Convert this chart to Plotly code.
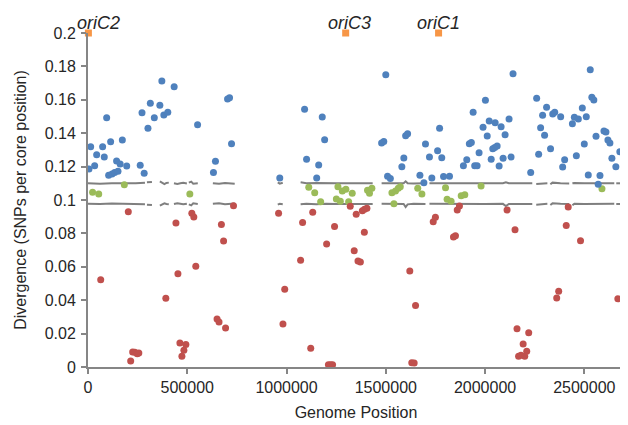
import plotly.graph_objects as go

# ---- data ----
blue_x = [13500, 5000, 33500, 43600, 73700, 82000, 94000, 114000, 173000, 144000, 162000, 195000,
          104000, 121000, 134000, 151000, 272000, 302000, 314000, 334000, 362000, 372000, 382000,
          402000, 434000, 263000, 283000, 552000, 632000, 642000, 703000, 713000, 723000, 966000,
          1091000, 1101000, 1180000, 1192000, 1162000, 1152000, 1500000, 1479000, 1490000, 1509000,
          1523000, 1581000, 1591000, 1600000, 1610000, 1672000, 1692000, 1700000, 1720000, 1732000,
          1761000, 1771000, 1782000, 1791000, 1821000, 1891000, 1908000, 1921000, 1931000, 1940000,
          1948000, 1960000, 1970000, 1990000, 2002000, 2011000, 2021000, 2031000, 2039000, 2049000,
          2061000, 2051000, 2071000, 2081000, 2091000, 2101000, 2121000, 2131000, 2141000, 2230000,
          2260000, 2270000, 2280000, 2290000, 2300000, 2310000, 2330000, 2341000, 2351000, 2381000,
          2391000, 2401000, 2440000, 2450000, 2470000, 2460000, 2490000, 2500000, 2510000, 2520000,
          2530000, 2538000, 2548000, 2559000, 2579000, 2570000, 2599000, 2609000, 2619000, 2629000,
          2639000, 2659000, 2679000]
blue_y = [0.1319, 0.1186, 0.1205, 0.1271, 0.1319, 0.1257, 0.1493, 0.1349, 0.1359, 0.1234, 0.1216, 0.1204,
          0.1148, 0.1156, 0.1164, 0.1172, 0.1523, 0.1429, 0.1579, 0.1493, 0.1567, 0.1713, 0.1509,
          0.1525, 0.1678, 0.1208, 0.1160, 0.1451, 0.1164, 0.1232, 0.1605, 0.1613, 0.1337, 0.1132,
          0.1543, 0.1244, 0.1497, 0.1361, 0.1210, 0.1132, 0.1750, 0.1341, 0.1351, 0.1142,
          0.1128, 0.1199, 0.1251, 0.1385, 0.1397, 0.1148, 0.1104, 0.1335, 0.1257, 0.1132,
          0.1295, 0.1429, 0.1253, 0.1140, 0.1142, 0.1205, 0.1241, 0.1337, 0.1345, 0.1525,
          0.1205, 0.1205, 0.1283, 0.1435, 0.1597, 0.1383, 0.1473, 0.1244, 0.1307, 0.1315,
          0.1323, 0.1463, 0.1204, 0.1439, 0.1250, 0.1391, 0.1485, 0.1257, 0.1756, 0.1164,
          0.1609, 0.1274, 0.1433, 0.1507, 0.1387, 0.1555, 0.1307, 0.1515, 0.1525, 0.1499,
          0.1198, 0.1241, 0.1456, 0.1495, 0.1485, 0.1265, 0.1551, 0.1335, 0.1499, 0.1150,
          0.1780, 0.1615, 0.1599, 0.1381, 0.1146, 0.1094, 0.1413, 0.1407, 0.1359, 0.1341,
          0.1250, 0.1199, 0.1289]

green_x = [23000, 54000, 183000, 513000, 1112000, 1142000, 1172000, 1259000, 1281000, 1299000,
           1271000, 1251000, 1313000, 1331000, 1408000, 1418000, 1430000, 1531000, 1549000,
           1563000, 1573000, 1541000, 1661000, 1682000, 1801000, 1809000, 1829000, 1880000,
           1898000, 1980000, 2589000]
green_y = [0.1046, 0.1036, 0.1092, 0.1036, 0.1076, 0.1044, 0.0990, 0.1080, 0.1054, 0.1064,
           0.0992, 0.1006, 0.0990, 0.1040, 0.1058, 0.1040, 0.1070, 0.1044, 0.1054,
           0.1070, 0.1080, 0.0978, 0.1070, 0.1036, 0.1074, 0.1004, 0.0992, 0.1026,
           0.1032, 0.1084, 0.1068]

red_x = [203000, 64000, 215000, 225000, 236000, 248000, 256000, 392000, 443000, 453000, 523000,
         533000, 543000, 463000, 493000, 483000, 473000, 672000, 683000, 650000, 660000, 693000,
         733000, 960000, 1081000, 1132000, 1071000, 991000, 982000, 1122000, 1211000, 1222000,
         1232000, 1202000, 1242000, 1321000, 1351000, 1341000, 1360000, 1372000, 1382000, 1393000,
         1405000, 1392000, 1621000, 1650000, 1631000, 1643000, 1739000, 1750000, 1841000, 1851000,
         1860000, 1871000, 2111000, 2151000, 2161000, 2220000, 2192000, 2210000, 2169000, 2181000,
         2200000, 2419000, 2409000, 2481000, 2361000, 2371000, 2669000]
red_y = [0.0930, 0.0523, 0.0036, 0.0090, 0.0088, 0.0080, 0.0084, 0.0411, 0.0862, 0.0559, 0.0920,
         0.0898, 0.0603, 0.0144, 0.0134, 0.0100, 0.0064, 0.0854, 0.0754, 0.0287, 0.0269, 0.0234,
         0.0966, 0.0920, 0.0866, 0.0926, 0.0639, 0.0465, 0.0257, 0.0112, 0.0014, 0.0014,
         0.0014, 0.0737, 0.0842, 0.0962, 0.0914, 0.0696, 0.0635, 0.0629, 0.0936, 0.0944,
         0.0950, 0.0807, 0.0575, 0.0369, 0.0026, 0.0024, 0.0870, 0.0896, 0.0778, 0.0786,
         0.0940, 0.0964, 0.0940, 0.0822, 0.0229, 0.0205, 0.0138, 0.0094, 0.0064, 0.0070,
         0.0064, 0.0958, 0.0848, 0.0756, 0.0413, 0.0453, 0.0409]

oric_x = [2000, 1298000, 1766000]
oric_y = [0.2, 0.2, 0.2]
oric_labels = ["oriC2", "oriC3", "oriC1"]

thr_x = [0, 60000, 120000, 180000, 240000, 287000, None,
         297000, 322000, None,
         362000, 375000, 385000, 395000, 407000, None,
         433000, 450000, 465000, 480000, 498000, None,
         508000, 520000, 530000, 553000, None,
         629000, 660000, 690000, 720000, 739000, None,
         956000, 966000, 981000, None,
         1071000, 1100000, 1150000, 1200000, 1250000, 1300000, 1350000, 1400000, 1434000, None,
         1479000, 1520000, 1560000, 1590000, 1600000, 1610000, 1640000, 1700000, None,
         1720000, 1800000, 1900000, 2000000, 2090000, 2105000, 2120000, 2200000, 2238000, None,
         2258000, 2314000, None,
         2329000, 2340000, 2380000, 2424000, None,
         2440000, 2450000, 2500000, 2560000, 2600000, 2651000, None,
         2661000, 2686000]
thr_hi = [0.1100, 0.1098, 0.1101, 0.1099, 0.1100, 0.1104, None,
          0.1106, 0.1108, None,
          0.1112, 0.1103, 0.1095, 0.1102, 0.1104, None,
          0.1100, 0.1096, 0.1100, 0.1103, 0.1099, None,
          0.1104, 0.1110, 0.1098, 0.1100, None,
          0.1100, 0.1097, 0.1102, 0.1101, 0.1098, None,
          0.1106, 0.1098, 0.1103, None,
          0.1106, 0.1100, 0.1102, 0.1099, 0.1100, 0.1101, 0.1099, 0.1100, 0.1100, None,
          0.1100, 0.1099, 0.1100, 0.1101, 0.1112, 0.1100, 0.1099, 0.1100, None,
          0.1100, 0.1099, 0.1101, 0.1100, 0.1100, 0.1106, 0.1100, 0.1099, 0.1100, None,
          0.1096, 0.1100, None,
          0.1094, 0.1104, 0.1100, 0.1099, None,
          0.1100, 0.1102, 0.1100, 0.1099, 0.1100, 0.1100, None,
          0.1100, 0.1100]
thr_lo = [0.0978, 0.0976, 0.0979, 0.0977, 0.0978, 0.0974, None,
          0.0972, 0.0970, None,
          0.0966, 0.0974, 0.0980, 0.0976, 0.0975, None,
          0.0976, 0.0980, 0.0977, 0.0974, 0.0978, None,
          0.0974, 0.0968, 0.0980, 0.0976, None,
          0.0977, 0.0980, 0.0975, 0.0976, 0.0979, None,
          0.0972, 0.0978, 0.0975, None,
          0.0974, 0.0977, 0.0975, 0.0978, 0.0976, 0.0977, 0.0976, 0.0977, 0.0976, None,
          0.0977, 0.0976, 0.0977, 0.0976, 0.0958, 0.0974, 0.0977, 0.0976, None,
          0.0977, 0.0976, 0.0977, 0.0976, 0.0977, 0.0964, 0.0976, 0.0977, 0.0976, None,
          0.0972, 0.0978, None,
          0.0970, 0.0980, 0.0977, 0.0976, None,
          0.0968, 0.0978, 0.0976, 0.0977, 0.0976, 0.0977, None,
          0.0976, 0.0976]

x_ticks = [0, 500000, 1000000, 1500000, 2000000, 2500000]
y_ticks = [0, 0.02, 0.04, 0.06, 0.08, 0.1, 0.12, 0.14, 0.16, 0.18, 0.2]
y_ticktext = ["0", "0.02", "0.04", "0.06", "0.08", "0.1", "0.12", "0.14", "0.16", "0.18", "0.2"]

FONT = "Liberation Sans, Arial, sans-serif"
TXT = "#262626"
GRAY = "#868686"

fig = go.Figure()
line_style = dict(color="#7f7f7f", width=2)
fig.add_trace(go.Scatter(x=thr_x, y=thr_hi, mode="lines", line=line_style,
                         connectgaps=False, hoverinfo="skip", showlegend=False))
fig.add_trace(go.Scatter(x=thr_x, y=thr_lo, mode="lines", line=line_style,
                         connectgaps=False, hoverinfo="skip", showlegend=False))

mk = dict(size=7, line=dict(width=0))
fig.add_trace(go.Scatter(x=green_x, y=green_y, mode="markers",
                         marker=dict(color="#9BBB59", **mk), showlegend=False))
fig.add_trace(go.Scatter(x=red_x, y=red_y, mode="markers",
                         marker=dict(color="#C0504D", **mk), showlegend=False))
fig.add_trace(go.Scatter(x=blue_x, y=blue_y, mode="markers",
                         marker=dict(color="#4F81BD", **mk), showlegend=False))
fig.add_trace(go.Scatter(x=oric_x, y=oric_y, mode="markers",
                         marker=dict(color="#F79646", symbol="square", size=7, line=dict(width=0)),
                         cliponaxis=False, showlegend=False))

shifts = [10, 4, 0]
for xv, lab, sh in zip(oric_x, oric_labels, shifts):
    fig.add_annotation(x=xv, y=0.2, text="<i>" + lab + "</i>", showarrow=False,
                       xanchor="center", yanchor="bottom", yshift=-2, xshift=sh,
                       font=dict(family=FONT, size=18, color=TXT))

# page body has an 8px margin, so the figure is sized to fill the rest of the window
fig.update_layout(
    width=620, height=417,
    margin=dict(l=80, r=4, t=25, b=58, autoexpand=False),
    paper_bgcolor="white", plot_bgcolor="white",
    font=dict(family=FONT, size=16, color=TXT),
    showlegend=False,
)
fig.update_xaxes(
    range=[0, 2700000], tickvals=x_ticks, ticktext=[str(v) for v in x_ticks],
    showgrid=False, zeroline=False, showline=True, linecolor=GRAY, linewidth=2,
    ticks="outside", ticklen=5, tickcolor=GRAY, tickwidth=2,
    title=dict(text="Genome Position", font=dict(size=16, family=FONT, color=TXT), standoff=12),
    tickfont=dict(size=16, family=FONT, color=TXT), automargin=False,
)
fig.update_yaxes(
    range=[0, 0.2], tickvals=y_ticks, ticktext=y_ticktext,
    showgrid=False, zeroline=False, showline=True, linecolor=GRAY, linewidth=2,
    ticks="outside", ticklen=5, tickcolor=GRAY, tickwidth=2, ticklabelstandoff=2,
    title=dict(text="Divergence (SNPs per core position)", font=dict(size=16, family=FONT, color=TXT), standoff=14),
    tickfont=dict(size=16, family=FONT, color=TXT), automargin=False,
)

fig.write_html("out.html")
